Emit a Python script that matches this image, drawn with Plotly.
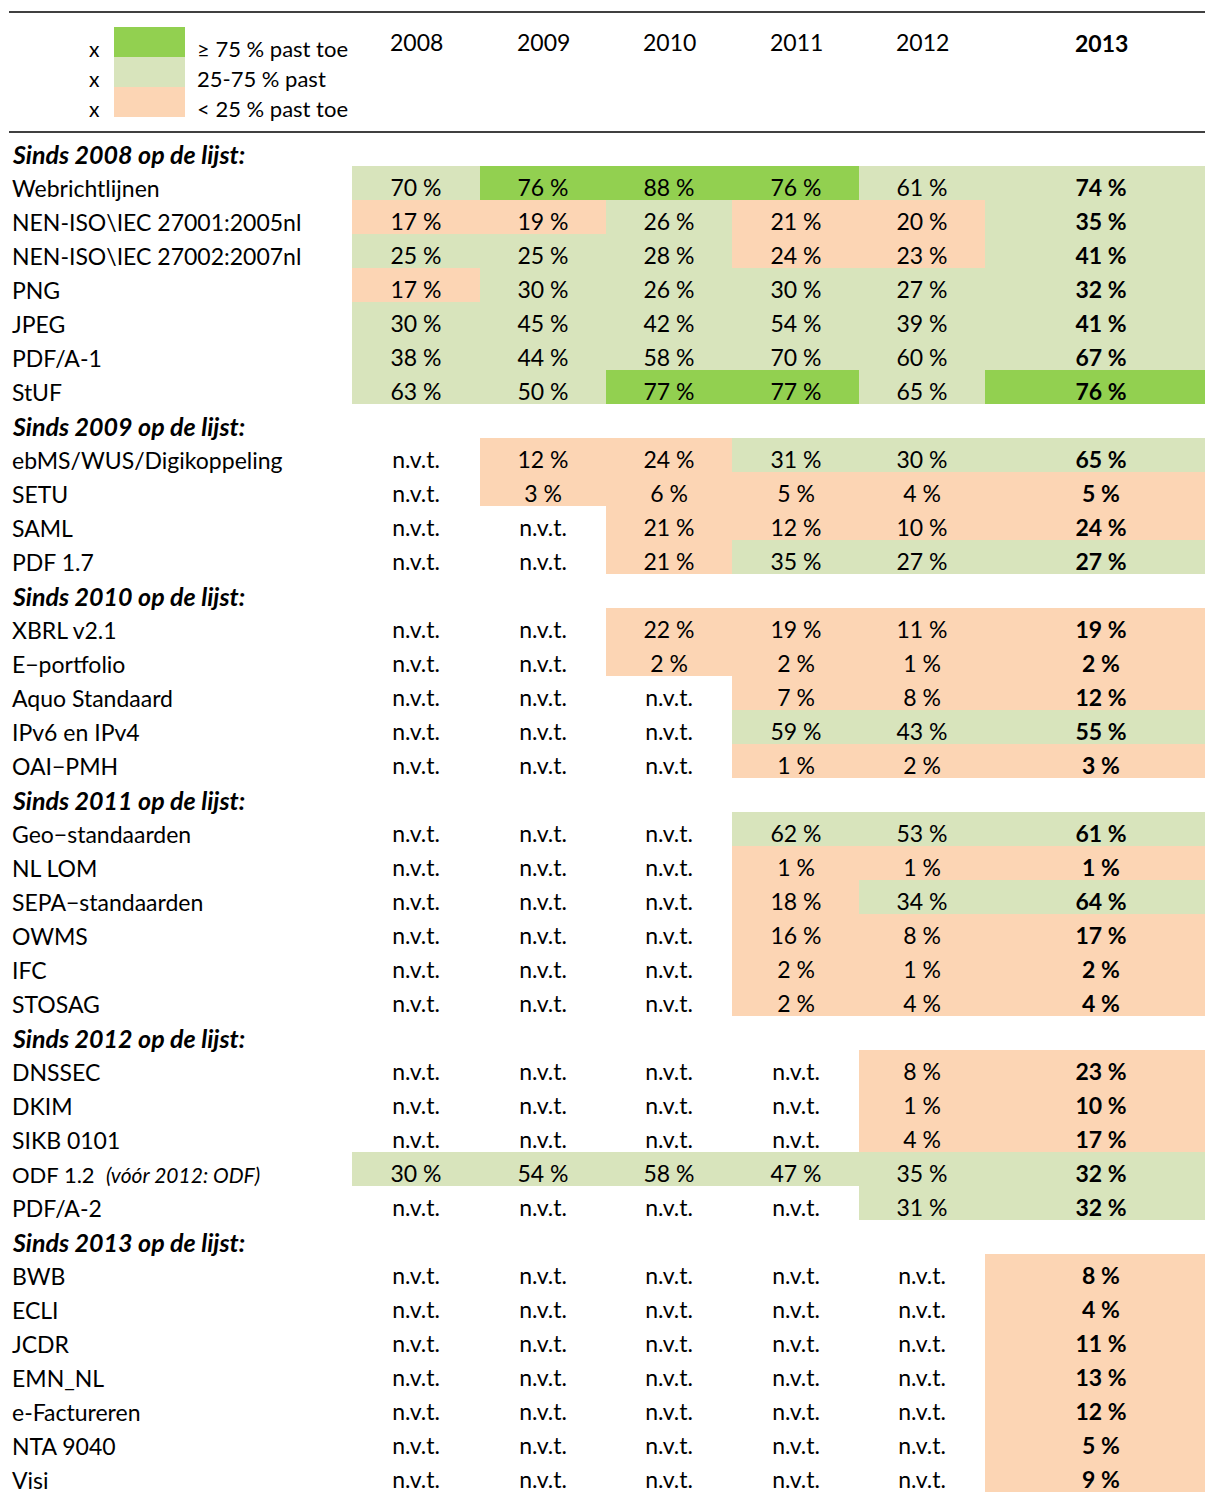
import plotly.graph_objects as go

# ---------------- data ----------------
years = ["2008", "2009", "2010", "2011", "2012", "2013"]

standards = [
    "Webrichtlijnen", "NEN-ISO\\IEC 27001:2005nl", "NEN-ISO\\IEC 27002:2007nl", "PNG", "JPEG", "PDF/A-1", "StUF",
    "ebMS/WUS/Digikoppeling", "SETU", "SAML", "PDF 1.7",
    "XBRL v2.1", "E\u2212portfolio", "Aquo Standaard", "IPv6 en IPv4", "OAI\u2212PMH",
    "Geo\u2212standaarden", "NL LOM", "SEPA\u2212standaarden", "OWMS", "IFC", "STOSAG",
    "DNSSEC", "DKIM", "SIKB 0101", "ODF 1.2", "PDF/A-2",
    "BWB", "ECLI", "JCDR", "EMN_NL", "e-Factureren", "NTA 9040", "Visi",
]
since = [2008] * 7 + [2009] * 4 + [2010] * 5 + [2011] * 6 + [2012] * 5 + [2013] * 7
group_years = [2008, 2009, 2010, 2011, 2012, 2013]

N = None
v2008 = [70, 17, 25, 17, 30, 38, 63, N, N, N, N, N, N, N, N, N, N, N, N, N, N, N, N, N, N, 30, N, N, N, N, N, N, N, N]
v2009 = [76, 19, 25, 30, 45, 44, 50, 12, 3, N, N, N, N, N, N, N, N, N, N, N, N, N, N, N, N, 54, N, N, N, N, N, N, N, N]
v2010 = [88, 26, 28, 26, 42, 58, 77, 24, 6, 21, 21, 22, 2, N, N, N, N, N, N, N, N, N, N, N, N, 58, N, N, N, N, N, N, N, N]
v2011 = [76, 21, 24, 30, 54, 70, 77, 31, 5, 12, 35, 19, 2, 7, 59, 1, 62, 1, 18, 16, 2, 2, N, N, N, 47, N, N, N, N, N, N, N, N]
v2012 = [61, 20, 23, 27, 39, 60, 65, 30, 4, 10, 27, 11, 1, 8, 43, 2, 53, 1, 34, 8, 1, 4, 8, 1, 4, 35, 31, N, N, N, N, N, N, N]
v2013 = [74, 35, 41, 32, 41, 67, 76, 65, 5, 24, 27, 19, 2, 12, 55, 3, 61, 1, 64, 17, 2, 4, 23, 10, 17, 32, 32, 8, 4, 11, 13, 12, 5, 9]

legend_labels = ["\u2265 75 % past toe", "25-75 % past", "< 25 % past toe"]

# ---------------- styling ----------------
GREEN = "#92D050"
LIGHT = "#D8E4BC"
PEACH = "#FCD5B4"
FONT = "Lato, Open Sans, sans-serif"
FS = 23

W, H = 1205, 1492
ROW_PX = 34
ROW0_TOP = 132           # pixel top of first table row
col_edges = [352, 480, 606, 732, 859, 985, 1205]
col_text_x = [416, 543, 669, 796, 922, 1101]


def py(px):
    """screen pixel y -> row units"""
    return (px - (ROW0_TOP + ROW_PX / 2)) / ROW_PX


columns = [v2008, v2009, v2010, v2011, v2012, v2013]

row_labels, row_is_header, row_vals = [], [], []
for gy in group_years:
    row_labels.append(f"Sinds {gy} op de lijst:")
    row_is_header.append(True)
    row_vals.append([None] * 6)
    for i, s in enumerate(standards):
        if since[i] == gy:
            row_labels.append(s)
            row_is_header.append(False)
            row_vals.append([c[i] for c in columns])

nrows = len(row_labels)
row_idx = list(range(nrows))

colorscale = [[0, PEACH], [0.245, PEACH], [0.245, LIGHT], [0.745, LIGHT], [0.745, GREEN], [1, GREEN]]

fig = go.Figure()
fig.add_trace(go.Heatmap(
    z=row_vals, x=col_edges, y=row_idx,
    zmin=0, zmax=100, colorscale=colorscale, showscale=False,
    hoverinfo="skip", xgap=0, ygap=0,
))

TY_VAL = 0.2
TY_LAB = 0.15
tx, ty, tt = [], [], []
bx, by, bt = [], [], []
for r in range(nrows):
    if row_is_header[r]:
        continue
    for c in range(6):
        v = row_vals[r][c]
        s = "n.v.t." if v is None else f"{v} %"
        if c == 5:
            bx.append(col_text_x[c]); by.append(r + TY_VAL); bt.append(s)
        else:
            tx.append(col_text_x[c]); ty.append(r + TY_VAL); tt.append(s)

fig.add_trace(go.Scatter(x=tx, y=ty, text=tt, mode="text", textposition="middle center",
                         textfont=dict(family=FONT, size=FS, color="#000"), hoverinfo="skip", showlegend=False))
fig.add_trace(go.Scatter(x=bx, y=by, text=bt, mode="text", textposition="middle center",
                         textfont=dict(family=FONT, size=FS, color="#000", weight="bold"),
                         hoverinfo="skip", showlegend=False))

annotations = []
for r, lab in enumerate(row_labels):
    size = FS
    if row_is_header[r]:
        txt = f"<b><i>{lab}</i></b>"
        size = 25
    elif lab == "ODF 1.2":
        txt = "ODF 1.2  <i><span style='font-size:21px'>(vóór 2012: ODF)</span></i>"
        size = 22
    else:
        txt = lab
    annotations.append(dict(x=10, y=r + TY_LAB, xref="x", yref="y", text=txt, showarrow=False,
                            xanchor="left", yanchor="middle",
                            font=dict(family=FONT, size=size, color="#000")))

for c, yr in enumerate(years):
    txt = f"<b>{yr}</b>" if c == 5 else yr
    annotations.append(dict(x=col_text_x[c], y=py(43 if c == 5 else 42), xref="x", yref="y", text=txt,
                            showarrow=False, xanchor="center", yanchor="middle",
                            font=dict(family=FONT, size=FS, color="#000")))

shapes = [
    dict(type="line", xref="x", yref="y", x0=9, x1=1210, y0=py(12), y1=py(12), line=dict(color="#000", width=1.3)),
    dict(type="line", xref="x", yref="y", x0=9, x1=1210, y0=py(132), y1=py(132), line=dict(color="#000", width=1.3)),
]
leg_colors = [GREEN, LIGHT, PEACH]
leg_tops = [27, 57, 87]
for k in range(3):
    shapes.append(dict(type="rect", xref="x", yref="y", x0=114, x1=185, y0=py(leg_tops[k]), y1=py(leg_tops[k] + 30),
                       fillcolor=leg_colors[k], line=dict(width=0), layer="below"))
    annotations.append(dict(x=94, y=py(leg_tops[k] + 21), xref="x", yref="y", text="x", showarrow=False,
                            xanchor="center", yanchor="middle", font=dict(family=FONT, size=21, color="#000")))
    annotations.append(dict(x=195, y=py(leg_tops[k] + 21), xref="x", yref="y", text=legend_labels[k],
                            showarrow=False, xanchor="left", yanchor="middle",
                            font=dict(family=FONT, size=22, color="#000")))

fig.update_layout(
    width=W, height=H, margin=dict(l=0, r=0, t=0, b=0),
    paper_bgcolor="white", plot_bgcolor="white",
    xaxis=dict(range=[0, W], visible=False, fixedrange=True),
    yaxis=dict(range=[py(H), py(0)], visible=False, fixedrange=True),
    shapes=shapes, annotations=annotations, showlegend=False,
)

fig.write_html(
    "out.html",
    config={"displayModeBar": False},
    post_script=("document.body.style.margin='0';document.body.style.padding='0';"
                 "document.documentElement.style.overflow='hidden';document.body.style.overflow='hidden';"),
)
